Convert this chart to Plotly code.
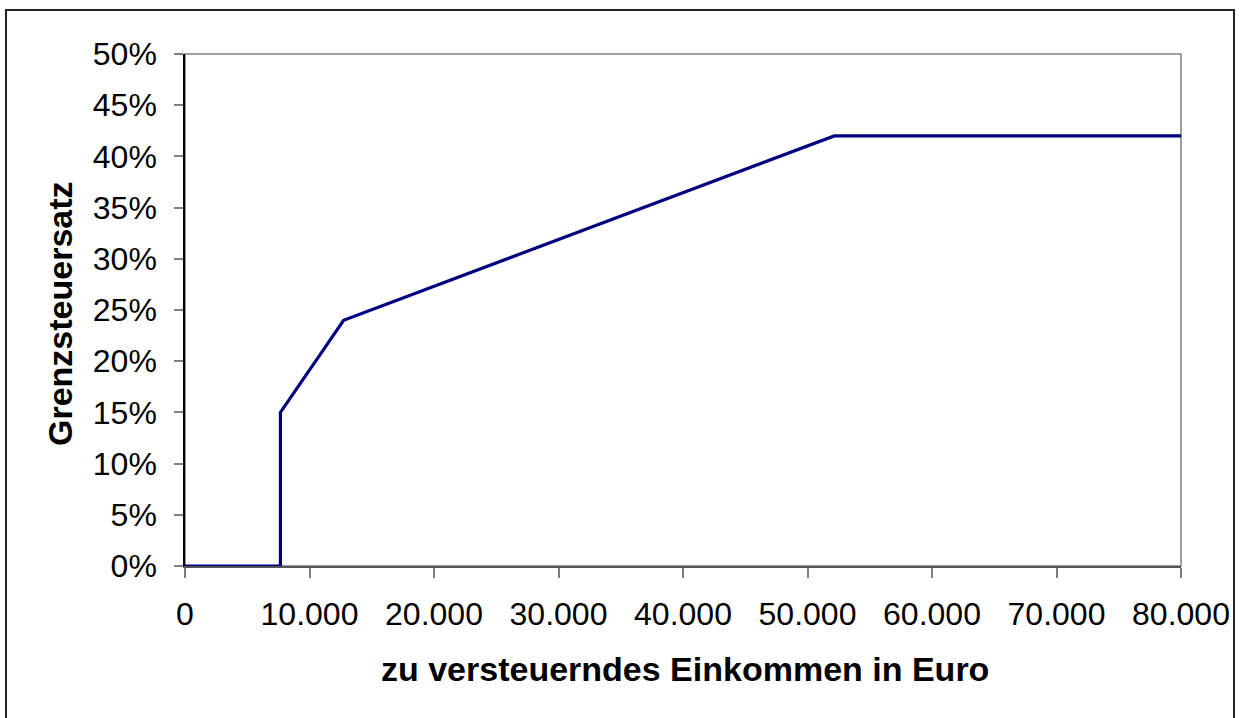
import plotly.graph_objects as go

# Data
income = [0, 7664, 7664, 12739, 52151, 80000]
rate = [0.0, 0.0, 0.15, 0.24, 0.42, 0.42]

x_ticks = [0, 10000, 20000, 30000, 40000, 50000, 60000, 70000, 80000]
y_ticks = [0, 0.05, 0.10, 0.15, 0.20, 0.25, 0.30, 0.35, 0.40, 0.45, 0.50]

x_title = "zu versteuerndes Einkommen in Euro"
y_title = "Grenzsteuersatz"

W, H = 1241, 718
L, T = 185, 54
R = W - 1181
B = H - 566
pw, ph = W - L - R, H - T - B


def px_x(px):
    return (px - L) / pw


def px_y(py):
    return (H - B - py) / ph


fig = go.Figure()
fig.add_trace(go.Scatter(
    x=income, y=rate, mode="lines",
    line=dict(color="#000080", width=3.2),
    cliponaxis=False, hoverinfo="skip", showlegend=False,
))

font_family = "Liberation Sans, Arial, sans-serif"

fig.update_layout(
    width=W, height=H,
    margin=dict(l=L, r=R, t=T, b=B, pad=0),
    paper_bgcolor="white", plot_bgcolor="white",
    separators=",.",
    font=dict(family=font_family, color="black", size=32),
    xaxis=dict(
        range=[0, 80000], tickvals=x_ticks, tickformat=",d",
        showgrid=False, zeroline=False,
        showline=True, linecolor="#555555", linewidth=1.5,
        ticks="outside", ticklen=10, tickwidth=1.5, tickcolor="#808080",
        tickfont=dict(size=32, family=font_family, color="black"),
        ticklabelstandoff=9,
    ),
    yaxis=dict(
        range=[0, 0.5], tickvals=y_ticks, tickformat=".0%",
        showgrid=False, zeroline=False,
        showline=True, linecolor="#000000", linewidth=1.5,
        ticks="outside", ticklen=9, tickwidth=1.5, tickcolor="#808080",
        tickfont=dict(size=32, family=font_family, color="black"),
        ticklabelstandoff=11,
    ),
    shapes=[
        # plot area frame (grey top/right)
        dict(type="rect", xref="paper", yref="paper", x0=0, x1=1, y0=0, y1=1,
             line=dict(color="#808080", width=1.5), layer="below"),
        # outer chart border
        dict(type="rect", xref="paper", yref="paper",
             x0=px_x(6), x1=px_x(1234), y0=px_y(730), y1=px_y(10),
             line=dict(color="#222222", width=2), layer="below"),
    ],
    annotations=[
        dict(text=f"<b>{x_title}</b>", xref="paper", yref="paper",
             x=px_x(685), y=px_y(669), xanchor="center", yanchor="middle",
             showarrow=False, font=dict(size=34, family=font_family, color="black")),
        dict(text=f"<b>{y_title}</b>", xref="paper", yref="paper",
             x=px_x(60), y=px_y(314), xanchor="center", yanchor="middle",
             textangle=-90, showarrow=False,
             font=dict(size=34, family=font_family, color="black")),
    ],
)

fig.write_html("out.html", config={"displayModeBar": False},
               post_script="document.body.style.margin='0';")
